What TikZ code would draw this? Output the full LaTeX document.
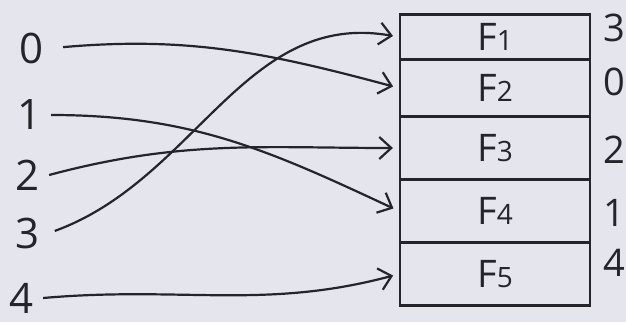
\documentclass[tikz,border=0pt]{standalone}
\usepackage{fontspec}
\setmainfont{Open Sans}
\usepackage{xcolor}
\usepackage{tikz}
\usetikzlibrary{arrows.meta}

\definecolor{paper}{RGB}{229,229,237}
\definecolor{ink}{RGB}{36,36,42}
\newcommand{\frm}[1]{F{\fontsize{14}{14}\selectfont #1}}

\begin{document}
\begin{tikzpicture}[x=0.5pt, y=0.5pt, line width=1.1pt, ink,
    idx/.style={font=\fontsize{21}{21}\selectfont, inner sep=4pt},
    frame/.style={draw, minimum width=95pt, inner sep=0pt, font=\fontsize{19}{19}\selectfont},
    map/.style={-{Straight Barb[length=6pt, width=11pt, line width=1.1pt]}, shorten >=3pt}]
    \fill[paper] (0,0) rectangle (626,322);
    \useasboundingbox (0,0) rectangle (626,322);
    % frames
    \foreach \i/\y/\h in {1/285/45, 2/234/57, 3/174/63, 4/111/63, 5/48/63}
        \node[frame, minimum height=\h*0.5pt] (f\i) at (495,\y) {\frm{\i}};
    % pages on the left, frame contents on the right
    \foreach \i/\x/\y in {0/32/274, 1/30/207, 2/28/147, 3/28/89, 4/22/24}
        \node[idx] (l\i) at (\x,\y) {\i};
    \foreach \i/\t/\y in {1/3/294, 2/0/240, 3/2/172, 4/1/109, 5/4/59}
        \node[idx, font=\fontsize{19}{19}\selectfont] (r\i) at (614,\y) {\t};
    % mapping
    \draw[map, shorten <=5pt] (l0.east) to[out=5, in=165] (f2.west);
    \draw[map] (l1.east) to[out=0, in=155] (f4.west);
    \draw[map] (l2.east) to[out=15, in=180] (f3.west);
    \draw[map, shorten <=3pt] (l3.east) to[out=20, in=170] (f1.west);
    \draw[map] (l4.east) to[out=5, in=195] (f5.west);
\end{tikzpicture}
\end{document}
